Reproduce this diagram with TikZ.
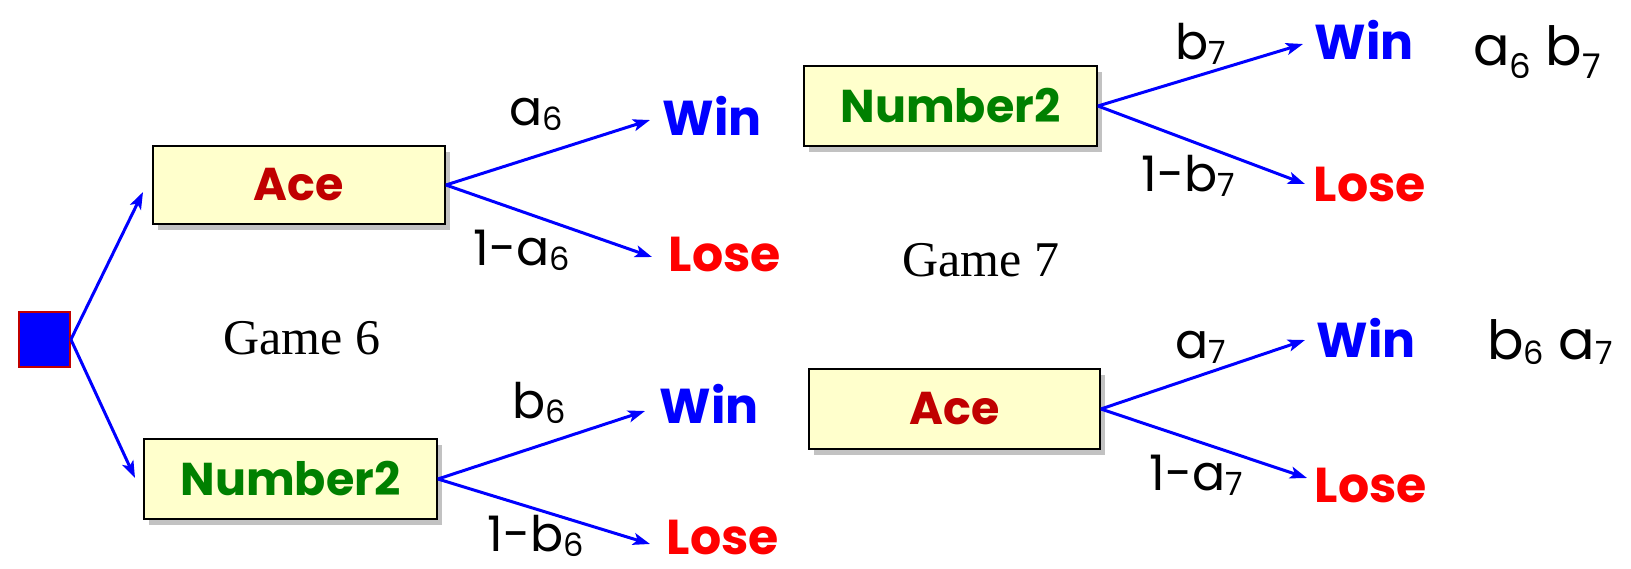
\documentclass[tikz,border=0pt]{standalone}
\usepackage{fontspec}
\setmainfont{Poppins}
\newfontfamily\serifgame{Liberation Serif}
\usetikzlibrary{arrows.meta,shadows}
\definecolor{boxfill}{HTML}{FFFFCC}
\definecolor{acered}{HTML}{C00000}
\definecolor{numgreen}{HTML}{008000}
\definecolor{winblue}{HTML}{0000FF}
\definecolor{losered}{HTML}{FF0000}
\definecolor{startred}{HTML}{C00000}
\newcommand{\lsub}[1]{\raisebox{-5pt}{\fontsize{32}{32}\selectfont #1}}
\newcommand{\dsub}[1]{\raisebox{-13pt}{\fontsize{34}{34}\selectfont #1}}
\tikzset{
  player/.style={draw=black, line width=1.8pt, fill=boxfill, inner sep=0pt,
    drop shadow={shadow xshift=5pt, shadow yshift=-6pt, fill=black!40, opacity=0.6},
    font=\fontsize{46}{46}\selectfont\bfseries},
  outwin/.style={inner sep=0pt, text=winblue, font=\fontsize{49}{49}\selectfont\bfseries},
  outlose/.style={inner sep=0pt, text=losered, font=\fontsize{49}{49}\selectfont\bfseries},
  prob/.style={inner sep=0pt, font=\fontsize{49}{49}\selectfont},
  result/.style={inner sep=0pt, font=\fontsize{54}{54}\selectfont},
  gamelbl/.style={inner sep=0pt, font=\serifgame\fontsize{50}{50}\selectfont},
  branch/.style={draw=winblue, line width=3pt, -{Stealth[length=17pt,width=12pt,inset=4pt]}},
}
\begin{document}
\begin{tikzpicture}[x=1pt,y=-1pt]
\useasboundingbox (0,0) rectangle (1631,568);
% start
\node (start) [draw=startred, line width=1.8pt, fill=winblue, minimum width=51pt, minimum height=55pt, inner sep=0pt] at (44.5,339.5) {};
% boxes
\node (ace1) [player, minimum width=292pt, minimum height=78pt, text=acered] at (299,185) {Ace};
\node (num1) [player, minimum width=293pt, minimum height=80pt, text=numgreen] at (290.5,479) {Number2};
\node (num2) [player, minimum width=293pt, minimum height=80pt, text=numgreen] at (950.5,106) {Number2};
\node (ace2) [player, minimum width=291pt, minimum height=80pt, text=acered] at (954.5,409) {Ace};
% outcomes
\node (w1) [outwin] at (712,116) {Win};
\node (l1) [outlose] at (725,254) {Lose};
\node (w2) [outwin] at (709,404) {Win};
\node (l2) [outlose] at (723,537) {Lose};
\node (w3) [outwin] at (1364,40) {Win};
\node (l3) [outlose] at (1370,184) {Lose};
\node (w4) [outwin] at (1366,338) {Win};
\node (l4) [outlose] at (1371,485) {Lose};
% coordinates for arrow tips
\coordinate (t1) at (650,120);
\coordinate (t2) at (652,257);
\coordinate (t3) at (645,411);
\coordinate (t4) at (650,544);
\coordinate (t5) at (1303,44);
\coordinate (t6) at (1305,184);
\coordinate (t7) at (1305,340);
\coordinate (t8) at (1307,478);
\coordinate (s1) at (143,192);
\coordinate (s2) at (135,478);
% probabilities
\node (pa6) [prob] at (536,114) {a\lsub{6}};
\node (pna6) [prob] at (522,250) {1-a\lsub{6}};
\node (pb6) [prob] at (539,403) {b\lsub{6}};
\node (pnb6) [prob] at (536,536) {1-b\lsub{6}};
\node (pb7) [prob] at (1201,44) {b\lsub{7}};
\node (pnb7) [prob] at (1188,176) {1-b\lsub{7}};
\node (pa7) [prob] at (1201,347) {a\lsub{7}};
\node (pna7) [prob] at (1196,475) {1-a\lsub{7}};
% results
\node (r1) [result] at (1537,52) {a\dsub{6} b\dsub{7}};
\node (r2) [result] at (1550,342) {b\lsub{6} a\lsub{7}};
% game labels
\node (g6) [gamelbl] at (302,338) {Game 6};
\node (g7) [gamelbl] at (981,260) {Game 7};
% arrows
\draw[branch] (start.east) -- (s1);
\draw[branch] (start.east) -- (s2);
\draw[branch] (ace1.east) -- (t1);
\draw[branch] (ace1.east) -- (t2);
\draw[branch] (num1.east) -- (t3);
\draw[branch] (num1.east) -- (t4);
\draw[branch] (num2.east) -- (t5);
\draw[branch] (num2.east) -- (t6);
\draw[branch] (ace2.east) -- (t7);
\draw[branch] (ace2.east) -- (t8);
\end{tikzpicture}
\end{document}
